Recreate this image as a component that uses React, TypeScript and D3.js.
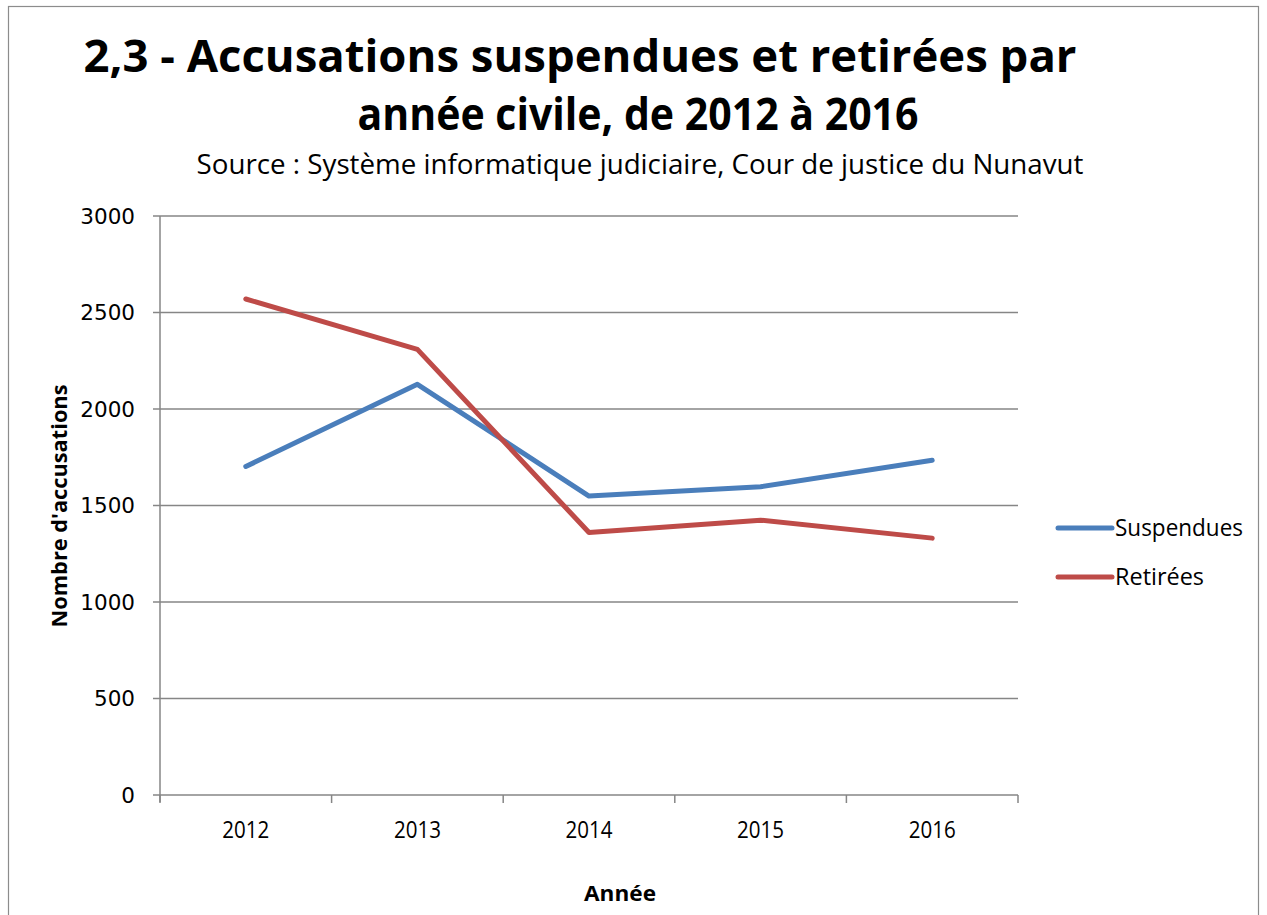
import * as d3 from "d3";

// ── Data ────────────────────────────────────────────────
const years = ["2012", "2013", "2014", "2015", "2016"];
const suspendues = [1702, 2128, 1549, 1597, 1734];
const retirees = [2570, 2309, 1360, 1424, 1331];
const yTicks = [0, 500, 1000, 1500, 2000, 2500, 3000];

const series = [
  { name: "Suspendues", values: suspendues, color: "#4a7ebb" },
  { name: "Retirées", values: retirees, color: "#be4b48" },
];

// ── Layout ────────────────────────────────────────────────
const W = 1267;
const H = 915;
const plot = { left: 160, right: 1018, top: 216, bottom: 795 };

const x = d3.scaleBand<string>().domain(years).range([plot.left, plot.right]);
const y = d3.scaleLinear().domain([0, 3000]).range([plot.bottom, plot.top]);

const line = d3
  .line<number>()
  .x((_, i) => (x(years[i]) as number) + x.bandwidth() / 2)
  .y((d) => y(d));

const FONT = "'Open Sans', sans-serif";
const GRID = "#868686";

export default function App() {
  const bandEdges = [...years.map((yr) => x(yr) as number), plot.right];

  return (
    <svg
      width={W}
      height={H}
      viewBox={`0 0 ${W} ${H}`}
      style={{ position: "absolute", left: 0, top: 0, display: "block", background: "#fff" }}
    >
      {/* outer frame */}
      <rect x={8.5} y={6.5} width={1250} height={930} fill="#fff" stroke="#8c8c8c" strokeWidth={1.2} />

      {/* titles */}
      <text x={580} y={72} textAnchor="middle" fontFamily={FONT} fontWeight={700} fontSize={44}
        textLength={993} lengthAdjust="spacingAndGlyphs" fill="#000">
        2,3 - Accusations suspendues et retirées par
      </text>
      <text x={638} y={130} textAnchor="middle" fontFamily={FONT} fontWeight={700} fontSize={44}
        textLength={561} lengthAdjust="spacingAndGlyphs" fill="#000">
        année civile, de 2012 à 2016
      </text>
      <text x={640} y={174} textAnchor="middle" fontFamily={FONT} fontSize={28}
        textLength={887} lengthAdjust="spacingAndGlyphs" fill="#000">
        Source : Système informatique judiciaire, Cour de justice du Nunavut
      </text>

      {/* gridlines + y ticks */}
      {yTicks.map((t) => (
        <g key={t}>
          <line x1={plot.left - 7} x2={plot.right} y1={y(t)} y2={y(t)} stroke={GRID} strokeWidth={1.5} />
          <text x={135} y={y(t)} dy="0.36em" textAnchor="end" fontFamily="'DejaVu Sans', Verdana, sans-serif"
            fontSize={21.5} fill="#000">
            {t}
          </text>
        </g>
      ))}

      {/* y axis */}
      <line x1={plot.left} x2={plot.left} y1={plot.top} y2={plot.bottom + 7} stroke={GRID} strokeWidth={1.5} />

      {/* x axis ticks */}
      {bandEdges.map((e, i) => (
        <line key={i} x1={e} x2={e} y1={plot.bottom} y2={plot.bottom + 8} stroke={GRID} strokeWidth={1.5} />
      ))}
      {years.map((yr) => (
        <text key={yr} x={(x(yr) as number) + x.bandwidth() / 2} y={838} textAnchor="middle"
          fontFamily={FONT} fontSize={23} textLength={47} lengthAdjust="spacingAndGlyphs" fill="#000">
          {yr}
        </text>
      ))}

      {/* axis titles */}
      <text transform="translate(67,506) rotate(-90)" textAnchor="middle" fontFamily={FONT}
        fontWeight={700} fontSize={21} textLength={243} lengthAdjust="spacingAndGlyphs" fill="#000">
        Nombre d'accusations
      </text>
      <text x={620} y={901} textAnchor="middle" fontFamily={FONT} fontWeight={700} fontSize={21}
        textLength={72} lengthAdjust="spacingAndGlyphs" fill="#000">
        Année
      </text>

      {/* series */}
      {series.map((s) => (
        <path key={s.name} d={line(s.values) ?? ""} fill="none" stroke={s.color} strokeWidth={5}
          strokeLinejoin="round" strokeLinecap="round" />
      ))}

      {/* legend */}
      {series.map((s, i) => (
        <g key={s.name} transform={`translate(1058, ${528 + i * 49})`}>
          <line x1={0} x2={54} y1={0} y2={0} stroke={s.color} strokeWidth={5} strokeLinecap="round" />
          <text x={57} y={0} dy="0.35em" fontFamily={FONT} fontSize={23}
            textLength={i === 0 ? 128 : 89} lengthAdjust="spacingAndGlyphs" fill="#000">
            {s.name}
          </text>
        </g>
      ))}
    </svg>
  );
}
